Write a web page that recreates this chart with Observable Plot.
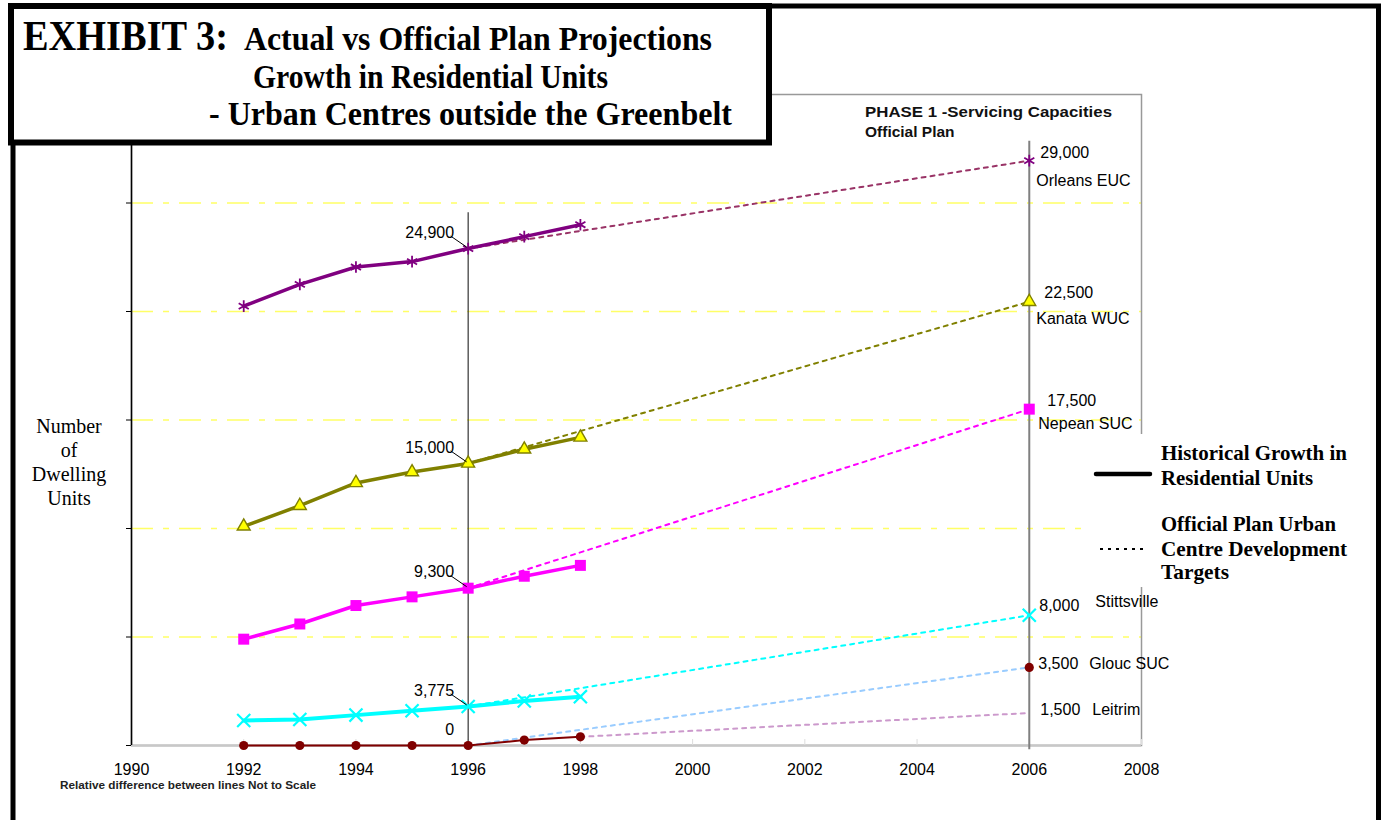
<!DOCTYPE html>
<html><head><meta charset="utf-8">
<script src="https://cdn.jsdelivr.net/npm/d3@7"></script>
<script src="https://cdn.jsdelivr.net/npm/@observablehq/plot@0.6"></script>
<style>
body{margin:0;background:#fff;}
#chart svg{display:block;overflow:visible;}
</style></head><body><div id="chart"></div>
<script>
// ---- data (relative units: "Relative difference between lines Not to Scale") ----
const years = [1992, 1993, 1994, 1995, 1996, 1997, 1998];
const orleans = [4.05, 4.25, 4.41, 4.46, 4.58, 4.69, 4.80];
const kanata = [2.02, 2.21, 2.42, 2.52, 2.60, 2.73, 2.84];
const nepean = [0.98, 1.12, 1.29, 1.37, 1.45, 1.56, 1.66];
const stittsville = [0.23, 0.24, 0.28, 0.32, 0.36, 0.41, 0.45];
const glouc = [0, 0, 0, 0, 0, 0.05, 0.08];

const seriesNames = ["Orleans EUC", "Kanata WUC", "Nepean SUC", "Stittsville", "Glouc SUC"];
const label1996 = ["24,900", "15,000", "9,300", "3,775", "0"];

const centres = ["Orleans EUC", "Kanata WUC", "Nepean SUC", "Stittsville", "Glouc SUC", "Leitrim"];
const target2006 = [5.39, 4.09, 3.10, 1.20, 0.72, 0.30];
const targetLabels = ["29,000", "22,500", "17,500", "8,000", "3,500", "1,500"];
const targetStartYear = [1996, 1996, 1996, 1996, 1996, 1998];
const targetStartSeries = [0, 1, 2, 3, 4, 4];
const targetYear = 2006;

const xTicks = [1990, 1992, 1994, 1996, 1998, 2000, 2002, 2004, 2006, 2008];
const yTicks = [0, 1, 2, 3, 4, 5, 6];
const gridLevels = [1, 2, 3, 4, 5];

// ---- styles / layout ----
const SANS = '"Liberation Sans", Arial, Helvetica, sans-serif';
const SERIF = '"Liberation Serif", "Times New Roman", Times, serif';
const lineColors = ["#800080", "#808000", "#FF00FF", "#00FFFF", "#800000"];
const targetColors = ["#993366", "#808000", "#FF00FF", "#00FFFF", "#99CCFF", "#CC99CC"];
const markerStyles = [
  {symbol: "asterisk", fill: "none", stroke: "#800080", r: 5.5, strokeWidth: 1.8},
  {symbol: "triangle", fill: "#FFFF00", stroke: "#808000", r: 4.8, strokeWidth: 1.4},
  {symbol: "square", fill: "#FF00FF", stroke: "none", r: 6.2, strokeWidth: 0},
  {symbol: "times", fill: "none", stroke: "#00FFFF", r: 6, strokeWidth: 2.2},
  {symbol: "circle", fill: "#800000", stroke: "none", r: 4.6, strokeWidth: 0}
];
const lineWidths = [3.5, 3.5, 3.5, 4, 2];
const valueLabelOffsets = [[11, -8], [15, -9], [18, -8], [10, -9], [9, -4], [11, -3]];
const nameLabelOffsets = [[7, 20], [7, 17], [9, 15], [66, -13], [60, -4], [63, -3]];

const seriesValues = [orleans, kanata, nepean, stittsville, glouc];
const valueAt = (i, year) => seriesValues[i][years.indexOf(year)];

const hist = seriesNames.map((name, i) => years.map((year, j) => ({name, year, value: seriesValues[i][j]})));
const targetRows = centres.flatMap((name, i) => [
  {name, year: targetStartYear[i], value: valueAt(targetStartSeries[i], targetStartYear[i]), color: targetColors[i]},
  {name, year: targetYear, value: target2006[i], color: targetColors[i]}
]);
const markerRows = seriesNames.map((name, i) => [
  ...hist[i],
  {name, year: targetYear, value: target2006[i]}
]);
const rows1996 = seriesNames.map((name, i) => ({name, year: 1996, value: valueAt(i, 1996), text: label1996[i]}));
const targetLabelRows = centres.map((name, i) => ({name, year: targetYear, value: target2006[i], text: targetLabels[i]}));

const marks = [
  Plot.ruleY(gridLevels, {stroke: "#FFFF66", strokeWidth: 1.5, strokeDasharray: "22,10,6,10"}),
  Plot.frame({stroke: "#999", strokeWidth: 1.5}),
  Plot.ruleY([0], {stroke: "#c8c8c8", strokeWidth: 2.5}),
  Plot.ruleX(xTicks.slice(1), {y1: 0, y2: 0.055, stroke: "#dddddd", strokeWidth: 1}),
  Plot.ruleX([1990], {stroke: "black", strokeWidth: 1.5}),
  Plot.axisY({ticks: yTicks, tickFormat: () => "", tickSize: 5, stroke: "black", label: null}),
  Plot.axisX({ticks: xTicks, tickFormat: d => String(d), tickSize: 0, tickPadding: 18, fontSize: 16, fontFamily: SANS, fill: "black", label: null}),
  Plot.ruleX([1996], {y1: 0, y2: 4.91, stroke: "#333", strokeWidth: 1.2}),
  Plot.ruleX([targetYear], {y1: -0.04, y2: 5.57, stroke: "#808080", strokeWidth: 2}),
  Plot.line(targetRows, {x: "year", y: "value", z: "name", stroke: "color", strokeWidth: 2, strokeDasharray: "4,5"}),
  ...hist.map((rows, i) => Plot.line(rows, {x: "year", y: "value", stroke: lineColors[i], strokeWidth: lineWidths[i]})),
  ...markerRows.map((rows, i) => Plot.dot(rows, {x: "year", y: "value", ...markerStyles[i]})),
  Plot.text(rows1996, {x: "year", y: "value", text: "text", textAnchor: "end", dx: -14, dy: -16, fontSize: 16, fontFamily: SANS, fill: "black"}),
  ...targetLabelRows.map((row, i) => Plot.text([row], {x: "year", y: "value", text: "text", textAnchor: "start", dx: valueLabelOffsets[i][0], dy: valueLabelOffsets[i][1], fontSize: 16, fontFamily: SANS, fill: "black"})),
  ...targetLabelRows.map((row, i) => Plot.text([row], {x: "year", y: "value", text: "name", textAnchor: "start", dx: nameLabelOffsets[i][0], dy: nameLabelOffsets[i][1], fontSize: 16, fontFamily: SANS, fill: "black", ariaLabel: "centre-name"}))
];

const chart = Plot.plot({
  width: 1385, height: 820,
  marginLeft: 131, marginRight: 244, marginTop: 94, marginBottom: 75,
  x: {domain: [1990, 2008], axis: null},
  y: {domain: [0, 6], axis: null},
  color: {type: "identity"},
  style: {fontFamily: SANS, background: "white", overflow: "visible"},
  marks
});
document.getElementById("chart").appendChild(chart);

// ---- decorations ----
const svg = d3.select(chart);
const xs = chart.scale("x"), ys = chart.scale("y");

// legend background (hides the plot frame there, as in the original)
const leg = svg.append("g").attr("text-anchor", "start");
leg.append("rect").attr("x", 1088).attr("y", 434).attr("width", 280).attr("height", 153).attr("fill", "white");

// white boxes behind centre names (they hide the plot frame, as in the original)
svg.selectAll('g[aria-label="centre-name"] text').each(function () {
  const b = this.getBBox();
  d3.select(this.parentNode).insert("rect", "text")
    .attr("x", b.x - 3).attr("y", b.y)
    .attr("width", b.width + 26).attr("height", b.height)
    .attr("fill", "white");
});

// leader lines for the 1996 values
const lg = svg.append("g").attr("stroke", "black").attr("stroke-width", 1);
rows1996.slice(0, 4).forEach(r => {
  const px = xs.apply(r.year), py = ys.apply(r.value);
  lg.append("line").attr("x1", px - 17).attr("y1", py - 12).attr("x2", px - 1).attr("y2", py - 1);
});

// phase label
const ph = svg.append("g").attr("text-anchor", "start").attr("font-family", SANS).attr("font-weight", "bold").attr("font-size", 15.5).attr("fill", "#111");
ph.append("text").attr("x", 865).attr("y", 117).attr("textLength", 247).attr("lengthAdjust", "spacingAndGlyphs").text("PHASE 1 -Servicing Capacities");
ph.append("text").attr("x", 865).attr("y", 137).text("Official Plan");

// y-axis title
const yl = svg.append("g").attr("font-family", SERIF).attr("font-size", 20).attr("text-anchor", "middle").attr("fill", "black");
["Number", "of", "Dwelling", "Units"].forEach((t, i) => yl.append("text").attr("x", 69).attr("y", 433 + i * 24).text(t));

// footnote
svg.append("text").attr("x", 60).attr("y", 789).attr("text-anchor", "start").attr("font-family", SANS).attr("font-weight", "bold")
  .attr("font-size", 10.5).attr("textLength", 256).attr("lengthAdjust", "spacingAndGlyphs").attr("fill", "#222").text("Relative difference between lines Not to Scale");

// legend content
leg.append("line").attr("x1", 1096).attr("x2", 1150).attr("y1", 474).attr("y2", 474).attr("stroke", "black").attr("stroke-width", 4.5).attr("stroke-linecap", "round");
leg.append("line").attr("x1", 1100).attr("x2", 1144).attr("y1", 549).attr("y2", 549).attr("stroke", "black").attr("stroke-width", 2).attr("stroke-dasharray", "3,5");
const lt = leg.append("g").attr("font-family", SERIF).attr("font-weight", "bold").attr("font-size", 22).attr("fill", "black");
[["Historical Growth in", 460, 186], ["Residential Units", 485, 152], ["Official Plan Urban", 531, 175], ["Centre Development", 556, 186], ["Targets", 579, 68]]
  .forEach(([t, yy, w]) => lt.append("text").attr("x", 1161).attr("y", yy).attr("textLength", w).attr("lengthAdjust", "spacingAndGlyphs").text(t));

// outer frame
svg.append("path").attr("d", "M13,830 L13,6 L1378.5,6 L1378.5,830").attr("fill", "none").attr("stroke", "black").attr("stroke-width", 5);

// title box
const tb = svg.append("g").attr("text-anchor", "start");
tb.append("rect").attr("x", 11).attr("y", 6).attr("width", 758).attr("height", 136.5).attr("fill", "white").attr("stroke", "black").attr("stroke-width", 6);
const tt = tb.append("g").attr("font-family", SERIF).attr("font-weight", "bold").attr("fill", "black");
tt.append("text").attr("x", 23).attr("y", 50).attr("font-size", 42).attr("textLength", 205).attr("lengthAdjust", "spacingAndGlyphs").text("EXHIBIT 3:");
tt.append("text").attr("x", 244).attr("y", 50).attr("font-size", 33).attr("textLength", 468).attr("lengthAdjust", "spacingAndGlyphs").text("Actual vs Official Plan Projections");
tt.append("text").attr("x", 253).attr("y", 88).attr("font-size", 33).attr("textLength", 355).attr("lengthAdjust", "spacingAndGlyphs").text("Growth in Residential Units");
tt.append("text").attr("x", 209).attr("y", 125).attr("font-size", 33).attr("textLength", 523).attr("lengthAdjust", "spacingAndGlyphs").text("- Urban Centres outside the Greenbelt");
</script>
</body></html>
